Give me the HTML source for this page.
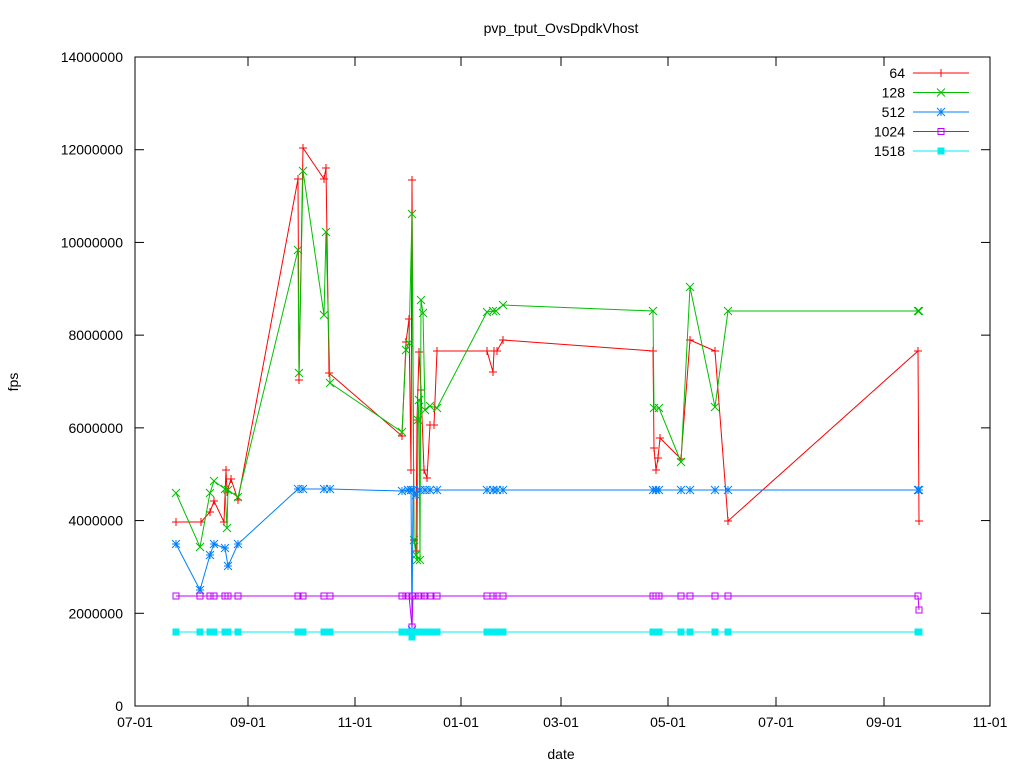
<!DOCTYPE html>
<html><head><meta charset="utf-8"><style>
body{margin:0;background:#fff}
svg text{font-family:"Liberation Sans",sans-serif;font-size:14px;fill:#000}
</style></head><body>
<svg id="s" width="1024" height="768" xmlns="http://www.w3.org/2000/svg">
<rect x="135" y="57" width="855" height="649" fill="none" stroke="#000" stroke-width="1"/>
<g id="ticks" stroke="#000" stroke-width="1"></g>
<g id="lab"></g>
<text x="561" y="33" text-anchor="middle">pvp_tput_OvsDpdkVhost</text>
<text x="561" y="759" text-anchor="middle">date</text>
<text x="18" y="382" text-anchor="middle" transform="rotate(-90 18 382)">fps</text>
<g id="plot" fill="none" stroke-width="1"></g>
</svg>
<script>
const NS="http://www.w3.org/2000/svg";
function el(p,t,a,txt){const e=document.createElementNS(NS,t);for(const k in a)e.setAttribute(k,a[k]);if(txt!=null)e.textContent=txt;p.appendChild(e);return e;}
const tk=document.getElementById('ticks'),lab=document.getElementById('lab'),pl=document.getElementById('plot');
for(let i=0;i<=7;i++){const y=706-i*649/7;
el(tk,'line',{x1:135,y1:y,x2:144,y2:y});el(tk,'line',{x1:990,y1:y,x2:981,y2:y});
el(lab,'text',{x:123,y:y+5,'text-anchor':'end'},String(i*2000000));}
const xs=[[135,'07-01'],[248,'09-01'],[355,'11-01'],[461,'01-01'],[561,'03-01'],[668,'05-01'],[776,'07-01'],[884,'09-01'],[990,'11-01']];
xs.forEach(([x,l])=>{el(tk,'line',{x1:x,y1:706,x2:x,y2:697});el(tk,'line',{x1:x,y1:57,x2:x,y2:66});el(lab,'text',{x:x,y:727,'text-anchor':'middle'},l);});
function mk(g,t,x,y,c){const s=4;
if(t==0){el(g,'path',{d:`M${x-s} ${y}h${2*s}M${x} ${y-s}v${2*s}`,stroke:c});}
else if(t==1){el(g,'path',{d:`M${x-s} ${y-s}l${2*s} ${2*s}M${x-s} ${y+s}l${2*s} ${-2*s}`,stroke:c});}
else if(t==2){el(g,'path',{d:`M${x-s} ${y}h${2*s}M${x} ${y-s}v${2*s}M${x-s} ${y-s}l${2*s} ${2*s}M${x-s} ${y+s}l${2*s} ${-2*s}`,stroke:c});}
else if(t==3){el(g,'rect',{x:x-3,y:y-3,width:6,height:6,stroke:c,fill:'none'});}
else {el(g,'rect',{x:x-3.5,y:y-3.5,width:7,height:7,fill:c,stroke:'none'});}}
function series(pts,c,t){el(pl,'polyline',{points:pts.map(p=>p.join(',')).join(' '),stroke:c});pts.forEach(p=>mk(pl,t,p[0],p[1],c));}
const red=[[176,522],[201,522],[210,512],[214,501],[224,522],[226,470],[227,492],[231,479],[238,500],[298,179],[299,380],[303,148],[324,179],[326,168],[329,373],[402,436],[406,342],[409,319],[411,470],[412,180],[414,540],[416,551],[417,420],[419,352],[421,390],[424,470],[427,478],[430,425],[434,425],[437,351],[487,351],[493,372],[494,351],[497,351],[503,340],[653,351],[654,448],[656,470],[658,458],[660,438],[681,459],[690,340],[715,351],[728,521],[918,351],[919,521]];
const green=[[176,493],[200,547],[210,493],[214,481],[225,489],[227,528],[228,490],[238,497],[298,250],[299,373],[303,171],[324,315],[326,232],[330,383],[402,432],[406,350],[409,343],[412,214],[414,540],[416,555],[417,560],[418,420],[419,400],[420,560],[421,300],[423,313],[425,410],[430,406],[437,408],[487,312],[493,311],[496,311],[503,305],[653,311],[654,408],[659,408],[681,462],[690,287],[715,407],[728,311],[918,311],[919,311]];
const blue=[[176,544],[200,590],[210,555],[214,544],[225,548],[228,566],[238,544],[298,489],[303,489],[324,489],[330,489],[402,491],[408,490],[411,490],[412,630],[413,490],[416,495],[420,490],[425,490],[430,490],[437,490],[487,490],[493,490],[497,490],[503,490],[653,490],[656,490],[659,490],[681,490],[690,490],[715,490],[728,490],[918,490],[919,490]];
const bx=[176,200,210,214,225,228,238,298,303,324,330,402,406,409,412,415,418,421,425,430,437,487,493,497,503,653,656,659,681,690,715,728,918];
const purple=bx.map(x=>[x,596]);purple.splice(14,0,[412,627],[413,596]);purple.push([919,610]);
const cyan=bx.map(x=>[x,632]);cyan.splice(14,0,[412,637],[413,632]);cyan.push([919,632]);
series(red,'#ff0000',0);series(green,'#00c000',1);series(blue,'#0080ff',2);series(purple,'#c000ff',3);series(cyan,'#00eeee',4);
const leg=[['64','#ff0000',0],['128','#00c000',1],['512','#0080ff',2],['1024','#c000ff',3],['1518','#00eeee',4]];
leg.forEach(([n,c,t],i)=>{const y=73+i*19.5;el(lab,'text',{x:905,y:y+5,'text-anchor':'end'},n);el(pl,'line',{x1:913,y1:y,x2:969,y2:y,stroke:c});mk(pl,t,941,y,c);});
</script>
</body></html>
